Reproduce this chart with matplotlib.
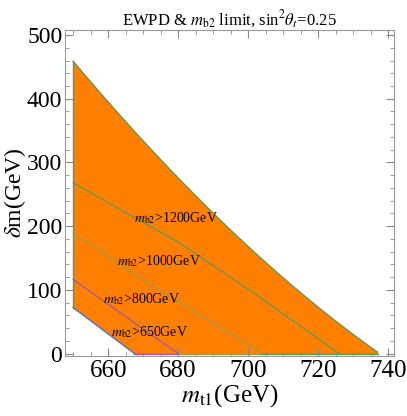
import numpy as np
import matplotlib
matplotlib.use('Agg')
import matplotlib.pyplot as plt

plt.rcParams['font.family'] = ['Liberation Serif', 'DejaVu Serif']
plt.rcParams['mathtext.fontset'] = 'stix'

# allowed region upper boundary (EWPD)
upper_x = [650, 660, 670, 680, 690, 700, 710, 720, 730, 737]
upper_y = [458, 396, 334, 276, 221, 166, 118, 74, 33, 0]

# m_b2 limit contours
m1200_x = [650, 680.6, 700.6, 726]
m1200_y = [268, 173, 99, 0]
m1000_x = [650, 675, 704]
m1000_y = [188, 99, 0]
m800_x = [650, 680]
m800_y = [116, 0]
m650_x = [650, 667.5]
m650_y = [72, 0]

labels = [r'$m_{\mathrm{b2}}$>1200GeV', r'$m_{\mathrm{b2}}$>1000GeV',
          r'$m_{\mathrm{b2}}$>800GeV', r'$m_{\mathrm{b2}}$>650GeV']
label_pos = [(679.4, 212), (674.6, 145), (669.6, 86), (671.9, 33)]

green = '#5b9a5b'
olive = '#9a9a4a'
purple = '#9b59a8'
blue = '#5a6bd0'
orange = '#ff8000'

fig = plt.figure(figsize=(4.07, 4.16), dpi=100)
ax = fig.add_axes([0.16, 0.144, 0.808, 0.784])

# smooth the upper boundary for drawing
xx = np.linspace(650, 737, 400)
coef = np.polyfit(upper_x, upper_y, 3)
top = np.clip(np.polyval(coef, xx), 0, None)
bot = np.interp(xx, m650_x, m650_y, right=0)
ax.fill_between(xx, bot, top, color=orange, lw=0, zorder=1)

ax.plot(xx, top, color=green, lw=1, zorder=3)
ax.plot([650, 650], [m650_y[0], top[0]], color=green, lw=1, zorder=3)
ax.plot(m1200_x, m1200_y, color=green, lw=0.9, zorder=3)
ax.plot(m1000_x, m1000_y, color=olive, lw=0.9, zorder=3)
ax.plot(m800_x, m800_y, color=purple, lw=0.9, zorder=3)
ax.plot(m650_x, m650_y, color=blue, lw=1, zorder=3)
ax.plot([m650_x[-1], m800_x[-1]], [0, 0], color=purple, lw=1, zorder=3)
ax.plot([m800_x[-1], m1000_x[-1]], [0, 0], color=olive, lw=1, zorder=3)
ax.plot([m1000_x[-1], upper_x[-1]], [0, 0], color=green, lw=1, zorder=3)

for lab, (lx, ly) in zip(labels, label_pos):
    ax.text(lx, ly, lab, fontsize=10, ha='center', va='center', zorder=4)

ax.set_xlim(647.7, 741.7)
ax.set_ylim(-4, 508)
ax.set_xticks([660, 680, 700, 720, 740])
ax.set_xticks(np.arange(650, 741, 5), minor=True)
ax.set_yticks([0, 100, 200, 300, 400, 500])
ax.set_yticks(np.arange(0, 501, 20), minor=True)
ax.tick_params(which='both', direction='in', top=True, right=True,
               color='#888888', labelsize=18, pad=3)
ax.tick_params(axis='y', labelsize=17, pad=2)
ax.tick_params(which='major', length=6, width=0.8)
ax.tick_params(which='minor', length=3, width=0.6)
for s in ax.spines.values():
    s.set_color('#999999')
    s.set_linewidth(0.8)

ax.set_xlabel(r'$m_{\mathrm{t1}}$(GeV)', fontsize=18, labelpad=0)
ax.set_ylabel(r'$\delta$m(GeV)', fontsize=17)
ax.yaxis.set_label_coords(-0.112, 0.5)
ax.set_title(r'EWPD & $m_{\mathrm{b2}}$ limit, sin$^2\theta_t$=0.25',
             fontsize=12, pad=3)

fig.savefig('out.png', dpi=100)
